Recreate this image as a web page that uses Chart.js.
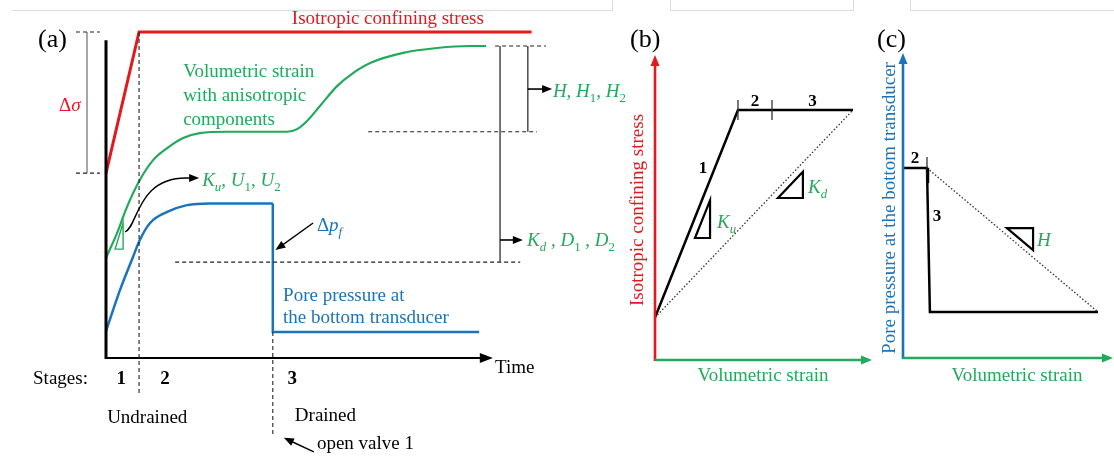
<!DOCTYPE html>
<html>
<head>
<meta charset="utf-8">
<script src="https://cdn.jsdelivr.net/npm/chart.js@4.4.1/dist/chart.umd.min.js"></script>
<style>
  body { margin: 0; background: #fff; width: 1114px; height: 456px; overflow: hidden; position: relative; }
  canvas { position: absolute; top: 0; }
  .frame { position: absolute; top: -1px; height: 11px; border: 1px solid #dcdcdc; border-top: none; }
</style>
</head>
<body>
<div class="frame" style="left:12px;width:600px;border-left:none"></div>
<div class="frame" style="left:670px;width:182px"></div>
<div class="frame" style="left:910px;width:210px;border-right:none"></div>
<canvas id="chartA" width="660" height="456" style="left:0"></canvas>
<canvas id="chartB" width="255" height="456" style="left:620px"></canvas>
<canvas id="chartC" width="244" height="456" style="left:870px"></canvas>
<script>
// ---- panel (a): time history, all values in % of plot height ----
const stressT = [0, 8.7, 112];
const stressV = [56.7, 100, 100];
const strainT = [0, 2.9, 5.5, 8.9, 12.4, 16.1, 20.3, 24.7, 31.8, 43.2, 47.6, 50.3, 52.9, 56.3, 60.8, 65.0, 69.5, 78.2, 87.1, 95.8, 100];
const strainV = [30.7, 38.3, 46.3, 54.6, 60.7, 64.4, 67.5, 69.0, 69.4, 69.4, 69.4, 70.2, 72.7, 77.3, 83.4, 87.4, 90.5, 93.6, 95.1, 95.7, 95.7];
const poreT = [0, 3.7, 7.1, 8.9, 11.6, 16.1, 21.3, 27.4, 32.6, 43.9];
const poreV = [8.3, 20.9, 31.0, 36.2, 41.4, 44.8, 46.9, 47.4, 47.4, 47.4];
const poreDrainT = [43.9, 43.9, 98.2];
const poreDrainV = [47.4, 8.0, 8.0];
const stageBounds = [0, 8.7, 43.9];
const stageNames = ["1", "2", "3"];
const strainPlateau = 69.4;
const drainedBase = 29.4;

// ---- panel (b): confining stress vs volumetric strain ----
const bStrain = [0, 41.9, 100];
const bStress = [17, 100, 100];
const bTicks = [41.9, 59.1];

// ---- panel (c): pore pressure vs volumetric strain ----
const cStrain = [0, 12.3, 13.8, 100];
const cPore = [100, 100, 24.2, 24.2];

const RED = "#e3191f", GREEN = "#22a95b", BLUE = "#1b74bb";
const FONT = '"Liberation Serif", "Times New Roman", serif';

function pts(xs, ys) { return xs.map((x, i) => ({ x: x, y: ys[i] })); }

function rich(ctx, x, yc, parts, size, color, align) {
  // parts: [text, mode] r roman, i italic, b bold, s italic subscript, q roman subscript
  const fontOf = m => {
    const sub = m === "s" || m === "q";
    return (m === "i" || m === "s" ? "italic " : "") + (m === "b" ? "bold " : "") + (sub ? size * 0.68 : size) + "px " + FONT;
  };
  ctx.save();
  ctx.fillStyle = color;
  ctx.textBaseline = "alphabetic";
  let w = 0;
  parts.forEach(p => { ctx.font = fontOf(p[1]); w += ctx.measureText(p[0]).width; });
  let cx = align === "center" ? x - w / 2 : align === "right" ? x - w : x;
  const base = yc + size * 0.33;
  parts.forEach(p => {
    ctx.font = fontOf(p[1]);
    const dy = (p[1] === "s" || p[1] === "q") ? size * 0.25 : 0;
    ctx.fillText(p[0], cx, base + dy);
    cx += ctx.measureText(p[0]).width;
  });
  ctx.restore();
}

function line(ctx, x1, y1, x2, y2, color, width, dash) {
  ctx.save();
  ctx.strokeStyle = color; ctx.lineWidth = width;
  ctx.setLineDash(dash || []);
  ctx.beginPath(); ctx.moveTo(x1, y1); ctx.lineTo(x2, y2); ctx.stroke();
  ctx.restore();
}

function head(ctx, fx, fy, tx, ty, color, len, half) {
  const a = Math.atan2(ty - fy, tx - fx);
  ctx.save();
  ctx.fillStyle = color;
  ctx.beginPath();
  ctx.moveTo(tx, ty);
  ctx.lineTo(tx - len * Math.cos(a) + half * Math.sin(a), ty - len * Math.sin(a) - half * Math.cos(a));
  ctx.lineTo(tx - len * Math.cos(a) - half * Math.sin(a), ty - len * Math.sin(a) + half * Math.cos(a));
  ctx.closePath(); ctx.fill();
  ctx.restore();
}

function arrow(ctx, x1, y1, x2, y2, color, width, len, half) {
  const a = Math.atan2(y2 - y1, x2 - x1);
  line(ctx, x1, y1, x2 - len * 0.8 * Math.cos(a), y2 - len * 0.8 * Math.sin(a), color, width);
  head(ctx, x1, y1, x2, y2, color, len, half);
}

function tri(ctx, p, color, width) {
  ctx.save();
  ctx.strokeStyle = color; ctx.lineWidth = width; ctx.lineJoin = "miter";
  ctx.beginPath(); ctx.moveTo(p[0][0], p[0][1]); ctx.lineTo(p[1][0], p[1][1]); ctx.lineTo(p[2][0], p[2][1]);
  ctx.closePath(); ctx.stroke();
  ctx.restore();
}

function vtext(ctx, x, y, text, size, color) {
  ctx.save();
  ctx.translate(x, y); ctx.rotate(-Math.PI / 2);
  ctx.font = size + "px " + FONT; ctx.fillStyle = color;
  ctx.textAlign = "center"; ctx.textBaseline = "middle";
  ctx.fillText(text, 0, 0);
  ctx.restore();
}

function baseOptions(pad, xmax, ymax) {
  return {
    responsive: false, animation: false, devicePixelRatio: 1,
    layout: { padding: pad },
    plugins: { legend: { display: false }, tooltip: { enabled: false } },
    elements: { point: { radius: 0 } },
    scales: {
      x: { type: "linear", display: false, min: 0, max: xmax },
      y: { type: "linear", display: false, min: 0, max: ymax }
    }
  };
}

const drawA = {
  id: "drawA",
  afterDatasetsDraw(chart) {
    const ctx = chart.ctx;
    const X = t => chart.scales.x.getPixelForValue(t);
    const Y = v => chart.scales.y.getPixelForValue(v);
    // axes
    line(ctx, X(0), Y(0) + 1, X(0), Y(97.5), "#000", 3);
    arrow(ctx, X(0) - 1, Y(0), X(101.8), Y(0), "#000", 2, 13, 5);
    // stage boundaries
    line(ctx, X(stageBounds[1]), Y(stressV[1]), X(stageBounds[1]), Y(-11.3), "#222", 1.1, [4, 3]);
    line(ctx, X(stageBounds[2]), Y(poreDrainV[2]), X(stageBounds[2]), Y(-23.3), "#222", 1.1, [4, 3]);
    // delta sigma bracket
    line(ctx, X(-5), Y(stressV[1]), X(-5), Y(stressV[0]), "#777", 1.3);
    line(ctx, X(-7.9), Y(stressV[1]), X(-1.6), Y(stressV[1]), "#222", 1.1, [4, 3]);
    line(ctx, X(-7.9), Y(stressV[0]), X(-1.6), Y(stressV[0]), "#222", 1.1, [4, 3]);
    // reference levels of the strain curve
    const vMax = strainV[strainV.length - 1];
    line(ctx, X(69), Y(strainPlateau), X(113.4), Y(strainPlateau), "#222", 1.1, [4, 3]);
    line(ctx, X(102.4), Y(vMax), X(115.8), Y(vMax), "#222", 1.1, [4, 3]);
    line(ctx, X(18.2), Y(drainedBase), X(109), Y(drainedBase), "#222", 1.1, [4, 3]);
    line(ctx, X(103.7), Y(vMax), X(103.7), Y(drainedBase), "#555", 1.6);
    line(ctx, X(111), Y(vMax), X(111), Y(strainPlateau), "#555", 1.6);
    arrow(ctx, X(111), Y(82.5), X(117.4), Y(82.5), "#000", 1.6, 10, 4);
    arrow(ctx, X(103.7), Y(36.2), X(109.7), Y(36.2), "#000", 1.6, 10, 4);
    // slope triangle and curved arrow
    tri(ctx, [[X(2.4), Y(33.4)], [X(4.5), Y(33.4)], [X(4.5), Y(41.4)]], GREEN, 1.4);
    ctx.save();
    ctx.strokeStyle = "#000"; ctx.lineWidth = 1.4;
    ctx.beginPath(); ctx.moveTo(X(5), Y(38.7));
    ctx.bezierCurveTo(X(8.4), Y(39.9), X(8.0), Y(56), X(22), Y(55.2));
    ctx.stroke(); ctx.restore();
    head(ctx, X(19), Y(55.2), X(24.5), Y(55.2), "#000", 10, 4);
    // pore pressure drop arrow, valve arrow
    arrow(ctx, X(54.5), Y(41.4), X(44.6), Y(33.1), "#000", 1.4, 10, 4);
    arrow(ctx, X(54.7), Y(-28.8), X(46.8), Y(-24.5), "#000", 1.4, 10, 4);
    // texts
    const S = 19;
    rich(ctx, 38, 38, [["(a)", "r"]], 26, "#000", "left");
    rich(ctx, X(-9.5), Y(77.6), [["Δ", "r"], ["σ", "i"]], S, RED, "center");
    rich(ctx, X(48.9), Y(104.3), [["Isotropic confining stress", "r"]], S, RED, "left");
    rich(ctx, X(20.3), Y(88), [["Volumetric strain", "r"]], S, GREEN, "left");
    rich(ctx, X(20.3), Y(80.7), [["with anisotropic", "r"]], S, GREEN, "left");
    rich(ctx, X(20.3), Y(73.3), [["components", "r"]], S, GREEN, "left");
    rich(ctx, X(25.3), Y(54.6), [["K", "i"], ["u", "s"], [", ", "i"], ["U", "i"], ["1", "q"], [", ", "i"], ["U", "i"], ["2", "q"]], S, GREEN, "left");
    rich(ctx, X(55.5), Y(40.8), [["Δ", "r"], ["p", "i"], ["f", "s"]], S, BLUE, "left");
    rich(ctx, X(46.6), Y(19.3), [["Pore pressure at", "r"]], S, BLUE, "left");
    rich(ctx, X(46.6), Y(12.6), [["the bottom transducer", "r"]], S, BLUE, "left");
    rich(ctx, X(117.6), Y(81.9), [["H", "i"], [", ", "i"], ["H", "i"], ["1", "q"], [", ", "i"], ["H", "i"], ["2", "q"]], S, GREEN, "left");
    rich(ctx, X(110.8), Y(36.2), [["K", "i"], ["d", "s"], [" , ", "i"], ["D", "i"], ["1", "q"], [" , ", "i"], ["D", "i"], ["2", "q"]], S, GREEN, "left");
    rich(ctx, X(102.4), Y(-2.8), [["Time", "r"]], S, "#000", "left");
    rich(ctx, X(-19.2), Y(-6.1), [["Stages:", "r"]], S, "#000", "left");
    const stageMid = [4, 15.5, 49];
    stageNames.forEach((n, i) => rich(ctx, X(stageMid[i]), Y(-6.1), [[n, "b"]], S, "#000", "center"));
    rich(ctx, X(0.3), Y(-18.1), [["Undrained", "r"]], S, "#000", "left");
    rich(ctx, X(49.7), Y(-17.5), [["Drained", "r"]], S, "#000", "left");
    rich(ctx, X(55.5), Y(-26), [["open valve 1", "r"]], S, "#000", "left");
  }
};

new Chart(document.getElementById("chartA"), {
  type: "line",
  data: {
    datasets: [
      { data: pts(stressT, stressV), borderColor: RED, borderWidth: 3, tension: 0, clip: false },
      { data: pts(strainT, strainV), borderColor: GREEN, borderWidth: 2.2, cubicInterpolationMode: "monotone", clip: false },
      { data: pts(poreT, poreV), borderColor: BLUE, borderWidth: 2.5, cubicInterpolationMode: "monotone", clip: false },
      { data: pts(poreDrainT, poreDrainV), borderColor: BLUE, borderWidth: 2.5, tension: 0, clip: false }
    ]
  },
  options: baseOptions({ left: 106, right: 174, top: 32, bottom: 98 }, 100, 100),
  plugins: [drawA]
});

const drawB = {
  id: "drawB",
  afterDatasetsDraw(chart) {
    const ctx = chart.ctx;
    const X = t => chart.scales.x.getPixelForValue(t);
    const Y = v => chart.scales.y.getPixelForValue(v);
    arrow(ctx, X(0), Y(0) + 1, X(0), Y(122), RED, 2.6, 11, 4.5);
    arrow(ctx, X(0), Y(0), X(109.6), Y(0), GREEN, 2.6, 11, 4.5);
    bTicks.forEach(t => line(ctx, X(t), Y(104), X(t), Y(96), "#333", 1.3));
    rich(ctx, X(24.2), Y(77.2), [["1", "b"]], 17, "#000", "center");
    rich(ctx, X((bTicks[0] + bTicks[1]) / 2), Y(104), [["2", "b"]], 17, "#000", "center");
    rich(ctx, X((bTicks[1] + 100) / 2), Y(104), [["3", "b"]], 17, "#000", "center");
    const su = (bStress[1] - bStress[0]) / (bStrain[1] - bStrain[0]);
    const sd = (bStress[2] - bStress[0]) / (bStrain[2] - bStrain[0]);
    tri(ctx, [[X(20.2), Y(48.8)], [X(27.8), Y(48.8)], [X(27.8), Y(48.8 + su * 7.6)]], "#000", 2.2);
    tri(ctx, [[X(62.1), Y(64.8)], [X(74.7), Y(64.8)], [X(74.7), Y(64.8 + sd * 12.6)]], "#000", 2.2);
    rich(ctx, X(31.3), Y(55.2), [["K", "i"], ["u", "s"]], 19, GREEN, "left");
    rich(ctx, X(77.3), Y(69.2), [["K", "i"], ["d", "s"]], 19, GREEN, "left");
    vtext(ctx, 18, 210, "Isotropic confining stress", 19, RED);
    rich(ctx, 143, 375, [["Volumetric strain", "r"]], 19, GREEN, "center");
    rich(ctx, 10, 38, [["(b)", "r"]], 26, "#000", "left");
  }
};

new Chart(document.getElementById("chartB"), {
  type: "line",
  data: {
    datasets: [
      { data: pts([bStrain[0], bStrain[2]], [bStress[0], bStress[2]]), borderColor: "#333", borderWidth: 1.3, borderDash: [1.5, 2], tension: 0, clip: false },
      { data: pts(bStrain, bStress), borderColor: "#000", borderWidth: 2.5, tension: 0, clip: false }
    ]
  },
  options: baseOptions({ left: 35, right: 22, top: 110, bottom: 96 }, 100, 100),
  plugins: [drawB]
});

const drawC = {
  id: "drawC",
  afterDatasetsDraw(chart) {
    const ctx = chart.ctx;
    const X = t => chart.scales.x.getPixelForValue(t);
    const Y = v => chart.scales.y.getPixelForValue(v);
    arrow(ctx, X(0), Y(0) + 1, X(0), Y(160.5), BLUE, 2.6, 11, 4.5);
    arrow(ctx, X(0), Y(0), X(107.7), Y(0), GREEN, 2.6, 11, 4.5);
    line(ctx, X(cStrain[1]), Y(105.8), X(cStrain[1]), Y(95.3), "#333", 1.3);
    line(ctx, X(cStrain[1]) + 1, Y(100), X(cStrain[1]) + 1, Y(92), "#000", 2.5);
    rich(ctx, X(cStrain[1] / 2), Y(105.8), [["2", "b"]], 17, "#000", "center");
    rich(ctx, X(17.4), Y(75.3), [["3", "b"]], 17, "#000", "center");
    const sh = (cPore[3] - cPore[1]) / (cStrain[3] - cStrain[1]);
    tri(ctx, [[X(53.3), Y(68.4)], [X(66.7), Y(68.4)], [X(66.7), Y(68.4 + sh * 13.4)]], "#000", 2.2);
    rich(ctx, X(68.7), Y(62.1), [["H", "i"]], 19, GREEN, "left");
    vtext(ctx, 20, 208, "Pore pressure at the bottom transducer", 19, BLUE);
    rich(ctx, 147, 375, [["Volumetric strain", "r"]], 19, GREEN, "center");
    rich(ctx, 7, 38, [["(c)", "r"]], 26, "#000", "left");
  }
};

new Chart(document.getElementById("chartC"), {
  type: "line",
  data: {
    datasets: [
      { data: pts([cStrain[1], cStrain[3]], [cPore[1], cPore[3]]), borderColor: "#333", borderWidth: 1.3, borderDash: [1.5, 2], tension: 0, clip: false },
      { data: pts(cStrain, cPore), borderColor: "#000", borderWidth: 2.5, tension: 0, clip: false }
    ]
  },
  options: baseOptions({ left: 33, right: 16, top: 168, bottom: 98 }, 100, 100),
  plugins: [drawC]
});
</script>
</body>
</html>
